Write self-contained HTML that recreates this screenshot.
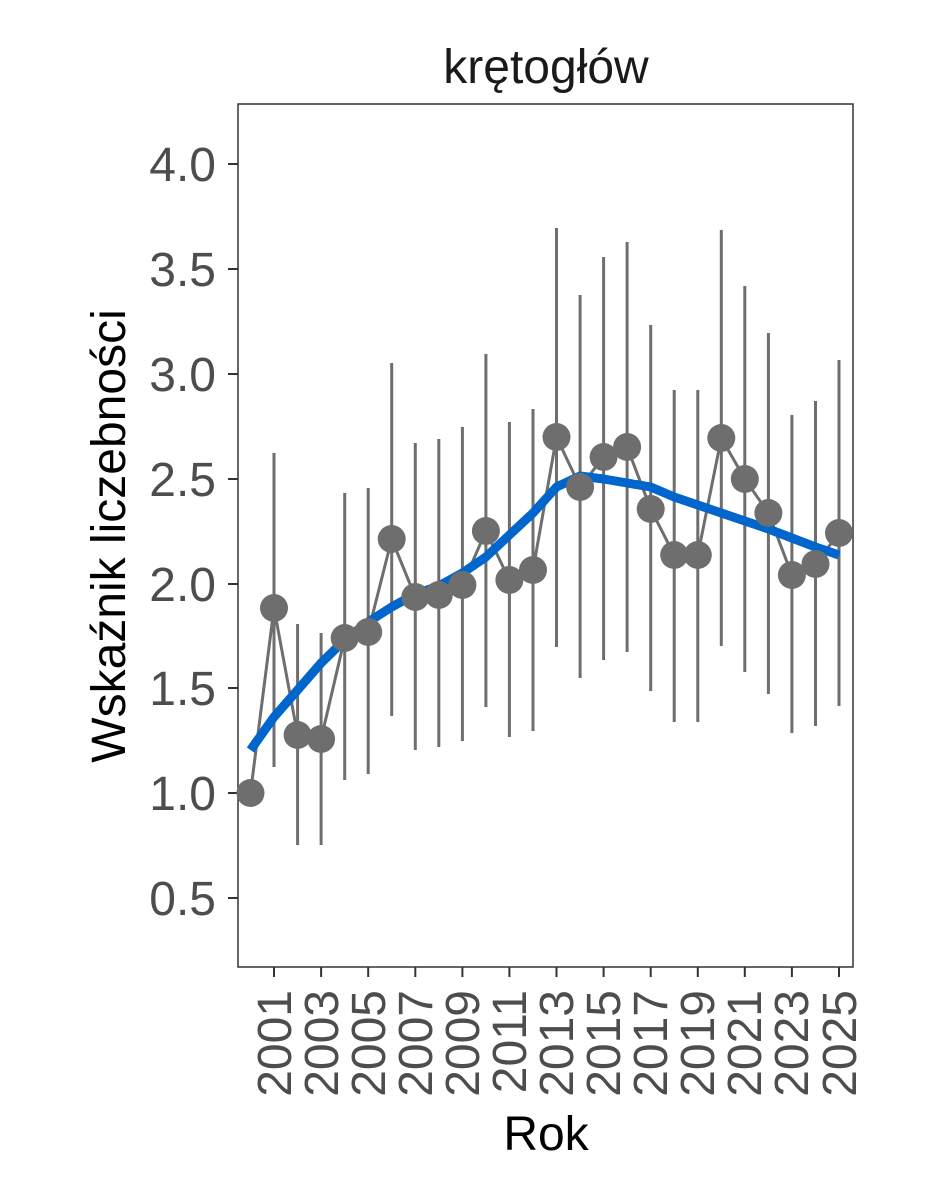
<!DOCTYPE html>
<html><head><meta charset="utf-8"><style>body{margin:0;background:#fff}svg{display:block}</style></head>
<body>
<svg width="944" height="1181" xmlns="http://www.w3.org/2000/svg" font-family="Liberation Sans, Arial, sans-serif">
<rect width="944" height="1181" fill="#fff"/>
<text x="546" y="83" font-size="48" text-anchor="middle" fill="#1a1a1a">krętogłów</text>
<rect x="238" y="104" width="615" height="863" fill="none" stroke="#333" stroke-width="1.5"/>
<g fill="#4d4d4d" font-size="48" text-anchor="end">
<text x="216" y="181">4.0</text><text x="216" y="286">3.5</text><text x="216" y="391">3.0</text>
<text x="216" y="496">2.5</text><text x="216" y="601">2.0</text><text x="216" y="705">1.5</text>
<text x="216" y="810">1.0</text><text x="216" y="915">0.5</text>
</g>
<g stroke="#333" stroke-width="2">
<line x1="228" y1="164" x2="238" y2="164"/><line x1="228" y1="269" x2="238" y2="269"/><line x1="228" y1="374" x2="238" y2="374"/>
<line x1="228" y1="479" x2="238" y2="479"/><line x1="228" y1="584" x2="238" y2="584"/><line x1="228" y1="688" x2="238" y2="688"/>
<line x1="228" y1="793" x2="238" y2="793"/><line x1="228" y1="898" x2="238" y2="898"/>
<line x1="274.0" y1="967" x2="274.0" y2="977"/><line x1="321.1" y1="967" x2="321.1" y2="977"/><line x1="368.2" y1="967" x2="368.2" y2="977"/>
<line x1="415.3" y1="967" x2="415.3" y2="977"/><line x1="462.4" y1="967" x2="462.4" y2="977"/><line x1="509.4" y1="967" x2="509.4" y2="977"/>
<line x1="556.5" y1="967" x2="556.5" y2="977"/><line x1="603.6" y1="967" x2="603.6" y2="977"/><line x1="650.7" y1="967" x2="650.7" y2="977"/>
<line x1="697.8" y1="967" x2="697.8" y2="977"/><line x1="744.8" y1="967" x2="744.8" y2="977"/><line x1="791.9" y1="967" x2="791.9" y2="977"/>
<line x1="839.0" y1="967" x2="839.0" y2="977"/>
</g>
<g fill="#4d4d4d" font-size="48" text-anchor="end">
<text transform="translate(291,990) rotate(-90)">2001</text>
<text transform="translate(338,990) rotate(-90)">2003</text>
<text transform="translate(385,990) rotate(-90)">2005</text>
<text transform="translate(432,990) rotate(-90)">2007</text>
<text transform="translate(479,990) rotate(-90)">2009</text>
<text transform="translate(526,990) rotate(-90)">2011</text>
<text transform="translate(573,990) rotate(-90)">2013</text>
<text transform="translate(620,990) rotate(-90)">2015</text>
<text transform="translate(667,990) rotate(-90)">2017</text>
<text transform="translate(714,990) rotate(-90)">2019</text>
<text transform="translate(761,990) rotate(-90)">2021</text>
<text transform="translate(808,990) rotate(-90)">2023</text>
<text transform="translate(856,990) rotate(-90)">2025</text>
</g>
<text x="546" y="1150" font-size="48" text-anchor="middle" fill="#000">Rok</text>
<text transform="translate(125,536) rotate(-90)" font-size="48" text-anchor="middle" fill="#000">Wskaźnik liczebności</text>
<g stroke="#6e6e6e" stroke-width="3">
<line x1="274.0" x2="274.0" y1="453" y2="767"/><line x1="297.6" x2="297.6" y1="624" y2="845"/>
<line x1="321.1" x2="321.1" y1="633" y2="845"/><line x1="344.7" x2="344.7" y1="493" y2="780"/>
<line x1="368.2" x2="368.2" y1="488" y2="774"/><line x1="391.7" x2="391.7" y1="363" y2="716"/>
<line x1="415.3" x2="415.3" y1="443" y2="750"/><line x1="438.8" x2="438.8" y1="439" y2="747"/>
<line x1="462.4" x2="462.4" y1="427" y2="741"/><line x1="485.9" x2="485.9" y1="354" y2="707"/>
<line x1="509.4" x2="509.4" y1="422" y2="737"/><line x1="533.0" x2="533.0" y1="409" y2="731"/>
<line x1="556.5" x2="556.5" y1="228" y2="647"/><line x1="580.1" x2="580.1" y1="295" y2="678"/>
<line x1="603.6" x2="603.6" y1="257" y2="660"/><line x1="627.1" x2="627.1" y1="242" y2="652"/>
<line x1="650.7" x2="650.7" y1="325" y2="691"/><line x1="674.2" x2="674.2" y1="390" y2="722"/>
<line x1="697.8" x2="697.8" y1="390" y2="722"/><line x1="721.3" x2="721.3" y1="230" y2="646"/>
<line x1="744.8" x2="744.8" y1="286" y2="672"/><line x1="768.4" x2="768.4" y1="333" y2="694"/>
<line x1="791.9" x2="791.9" y1="415" y2="733"/><line x1="815.5" x2="815.5" y1="401" y2="726"/>
<line x1="839.0" x2="839.0" y1="360" y2="706"/>
</g>
<polyline fill="none" stroke="#6e6e6e" stroke-width="3" points="250.5,793 274.0,608 297.6,735 321.1,739 344.7,638 368.2,632 391.7,539 415.3,597 438.8,595 462.4,585 485.9,531 509.4,580 533.0,570 556.5,437 580.1,487 603.6,457 627.1,447 650.7,509 674.2,555 697.8,555 721.3,438 744.8,479 768.4,513 791.9,575 815.5,564 839.0,533"/>
<polyline fill="none" stroke="#0066cc" stroke-width="9" stroke-linejoin="round" points="250.5,750 274.0,717 297.6,690 321.1,663 344.7,640 368.2,622 391.7,607 415.3,594 438.8,586 462.4,573 485.9,557 509.4,535 533.0,513 556.5,487 580.1,476 603.6,479 627.1,483 650.7,487 674.2,497 697.8,505 721.3,513 744.8,521 768.4,529 791.9,538 815.5,547 839.0,555"/>
<g fill="#6e6e6e">
<circle cx="250.5" cy="793" r="14"/><circle cx="274.0" cy="608" r="14"/><circle cx="297.6" cy="735" r="14"/>
<circle cx="321.1" cy="739" r="14"/><circle cx="344.7" cy="638" r="14"/><circle cx="368.2" cy="632" r="14"/>
<circle cx="391.7" cy="539" r="14"/><circle cx="415.3" cy="597" r="14"/><circle cx="438.8" cy="595" r="14"/>
<circle cx="462.4" cy="585" r="14"/><circle cx="485.9" cy="531" r="14"/><circle cx="509.4" cy="580" r="14"/>
<circle cx="533.0" cy="570" r="14"/><circle cx="556.5" cy="437" r="14"/><circle cx="580.1" cy="487" r="14"/>
<circle cx="603.6" cy="457" r="14"/><circle cx="627.1" cy="447" r="14"/><circle cx="650.7" cy="509" r="14"/>
<circle cx="674.2" cy="555" r="14"/><circle cx="697.8" cy="555" r="14"/><circle cx="721.3" cy="438" r="14"/>
<circle cx="744.8" cy="479" r="14"/><circle cx="768.4" cy="513" r="14"/><circle cx="791.9" cy="575" r="14"/>
<circle cx="815.5" cy="564" r="14"/><circle cx="839.0" cy="533" r="14"/>
</g>
</svg>
</body></html>
